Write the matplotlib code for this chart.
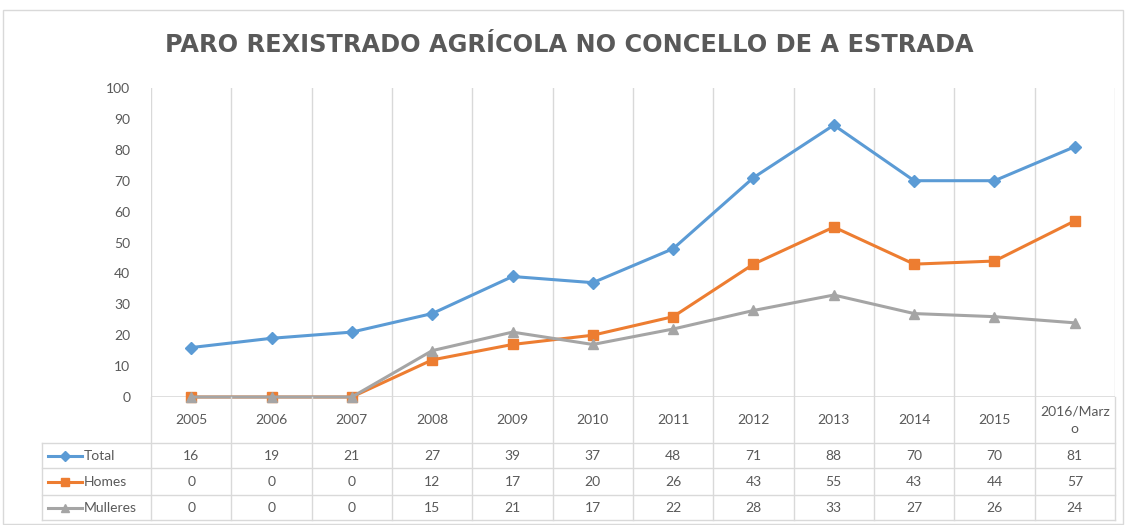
import numpy as np
import matplotlib.pyplot as plt
import matplotlib.transforms as mtransforms
from matplotlib.patches import Rectangle
from matplotlib.lines import Line2D

plt.rcParams['font.family'] = ['Lato', 'DejaVu Sans']

# data
years = ['2005', '2006', '2007', '2008', '2009', '2010', '2011', '2012',
         '2013', '2014', '2015', '2016/Marz\no']
total = [16, 19, 21, 27, 39, 37, 48, 71, 88, 70, 70, 81]
homes = [0, 0, 0, 12, 17, 20, 26, 43, 55, 43, 44, 57]
mulleres = [0, 0, 0, 15, 21, 17, 22, 28, 33, 27, 26, 24]

series = [('Total', total, '#5B9BD5', 'D', 6),
          ('Homes', homes, '#ED7D31', 's', 7),
          ('Mulleres', mulleres, '#A5A5A5', '^', 7.5)]

W, H = 1126, 525
txt = '#595959'
grid = '#D9D9D9'

fig = plt.figure(figsize=(W / 100, H / 100), dpi=100)

def fy(py):
    return 1 - py / H

def fx(px):
    return px / W

# chart border
fig.patches.append(Rectangle((fx(3), fy(524)), fx(1120), fy(10) - fy(524),
                             transform=fig.transFigure, fill=False,
                             edgecolor=grid, linewidth=1))

left, right, top, bottom = 151, 1115, 88, 397
ax = fig.add_axes([fx(left), fy(bottom), fx(right - left), fy(top) - fy(bottom)])
n = len(years)
x = np.arange(n)
ax.set_xlim(-0.5, n - 0.5)
ax.set_ylim(0, 100)
for s in ax.spines.values():
    s.set_visible(False)
ax.set_xticks([])
ax.set_yticks(np.arange(0, 101, 10))
ax.tick_params(axis='y', length=0, labelsize=10, labelcolor=txt, pad=15)
ax.axhline(0, color=grid, linewidth=1.2, zorder=1)
for b in np.arange(-0.5, n, 1):
    ax.axvline(b, color=grid, linewidth=1, zorder=0)

for i, (name, vals, col, mk, ms) in enumerate(series):
    ax.plot(x, vals, color=col, linewidth=2.2, marker=mk, markersize=ms,
            zorder=3 + i, clip_on=False)

fig.text(fx(569), fy(45), 'PARO REXISTRADO AGRÍCOLA NO CONCELLO DE A ESTRADA',
         ha='center', va='center', fontsize=17.3, fontweight='bold', color=txt,
         family='DejaVu Sans')

# data table below the plot
bt = mtransforms.blended_transform_factory(ax.transData, fig.transFigure)
rows_y = [443, 468, 495, 520]
for b in np.arange(-0.5, n, 1):
    fig.add_artist(Line2D([b, b], [fy(bottom), fy(520)], transform=bt,
                          color=grid, linewidth=1))
for ry in rows_y:
    fig.add_artist(Line2D([fx(42), fx(right)], [fy(ry), fy(ry)],
                          transform=fig.transFigure, color=grid, linewidth=1))
fig.add_artist(Line2D([fx(42), fx(42)], [fy(443), fy(520)],
                      transform=fig.transFigure, color=grid, linewidth=1))

for i, lab in enumerate(years):
    fig.text(i, fy(420), lab, transform=bt, ha='center', va='center',
             fontsize=10, color=txt, linespacing=1.6)

for r, (name, vals, col, mk, ms) in enumerate(series):
    yc = fy((rows_y[r] + rows_y[r + 1]) / 2)
    for i, v in enumerate(vals):
        fig.text(i, yc, str(v), transform=bt, ha='center', va='center',
                 fontsize=10, color=txt)
    fig.add_artist(Line2D([fx(48), fx(82)], [yc, yc], transform=fig.transFigure,
                          color=col, linewidth=2.2))
    fig.add_artist(Line2D([fx(65)], [yc], transform=fig.transFigure, color=col,
                          marker=mk, markersize=ms * 0.85, linestyle='none'))
    fig.text(fx(84), yc, name, ha='left', va='center', fontsize=10, color=txt)

fig.savefig('out.png', dpi=100)
